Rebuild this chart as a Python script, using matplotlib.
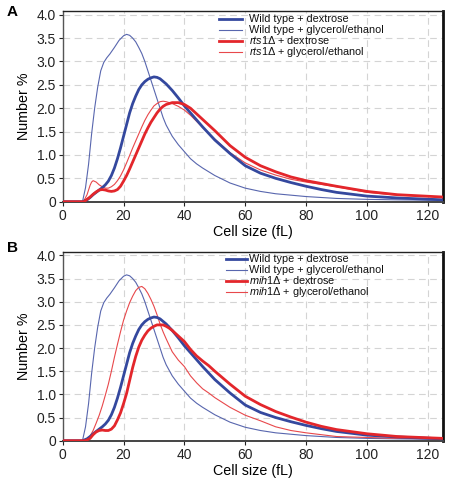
import matplotlib
matplotlib.use("Agg")
import matplotlib.pyplot as plt
from matplotlib.lines import Line2D

plt.rcParams['font.family'] = ['Liberation Sans', 'DejaVu Sans']
plt.rcParams['mathtext.fontset'] = 'custom'
plt.rcParams['mathtext.it'] = 'Liberation Sans:italic'
plt.rcParams['mathtext.rm'] = 'Liberation Sans'

# ---------------- data (cell size fL vs number %) ----------------
wt_dex_x = [0, 6.5, 8, 9, 10, 11, 12, 13, 14, 15, 16, 17, 18, 19, 20, 21, 22, 23, 24, 25, 26, 27, 28, 29, 30, 31, 32,
            34, 36, 38, 40, 42, 44, 46, 48, 50, 55, 60, 65, 70, 75, 80, 85, 90, 100, 110, 125]
wt_dex_y = [0, 0, 0.04, 0.09, 0.15, 0.2, 0.25, 0.3, 0.36, 0.44, 0.56, 0.72, 0.92, 1.15, 1.4, 1.65, 1.9, 2.1, 2.26, 2.4,
            2.5, 2.57, 2.62, 2.65, 2.67, 2.66, 2.63, 2.52, 2.38, 2.22, 2.05, 1.9, 1.75, 1.6, 1.46, 1.32, 1.03, 0.77,
            0.61, 0.5, 0.41, 0.33, 0.26, 0.2, 0.12, 0.08, 0.04]

wt_gly_x = [0, 6.5, 7.5, 8.5, 9.5, 10.5, 11.5, 12.5, 13.5, 14.5, 15.5, 17, 18.5, 20, 21, 22, 23, 24, 25, 26, 27, 28,
            29, 30, 31, 32, 33, 34, 36, 38, 40, 42, 44, 46, 48, 50, 55, 60, 65, 70, 80, 90, 100, 110, 125]
wt_gly_y = [0, 0, 0.3, 0.8, 1.45, 2.0, 2.45, 2.8, 2.98, 3.08, 3.16, 3.3, 3.45, 3.55, 3.58, 3.56, 3.5, 3.42, 3.3, 3.17,
            3.0, 2.8, 2.6, 2.4, 2.2, 2.0, 1.8, 1.64, 1.4, 1.22, 1.07, 0.92, 0.81, 0.72, 0.64, 0.56, 0.4, 0.29, 0.22,
            0.17, 0.11, 0.07, 0.05, 0.04, 0.03]

rts1_dex_x = [0, 7, 8, 9, 10, 11, 12, 13, 14, 15, 16, 17, 18, 19, 20, 21, 22, 23, 24, 25, 26, 27, 28, 29, 30, 31, 32,
              33, 34, 36, 38, 40, 42, 44, 46, 48, 50, 55, 60, 65, 70, 75, 80, 85, 90, 100, 110, 125]
rts1_dex_y = [0, 0, 0.05, 0.1, 0.16, 0.21, 0.25, 0.26, 0.25, 0.23, 0.22, 0.23, 0.26, 0.33, 0.44, 0.56, 0.7, 0.85, 1.0,
              1.15, 1.3, 1.45, 1.58, 1.7, 1.8, 1.9, 1.98, 2.04, 2.08, 2.12, 2.12, 2.08, 2.0, 1.88, 1.76, 1.64, 1.52,
              1.2, 0.95, 0.77, 0.64, 0.53, 0.45, 0.39, 0.33, 0.22, 0.15, 0.1]

rts1_gly_x = [0, 6.8, 8, 9, 9.5, 10, 11, 12, 13, 14, 15, 16, 17, 18, 19, 20, 21, 22, 23, 24, 25, 26, 27, 28, 29, 30,
              31, 32, 33, 34, 36, 38, 40, 42, 44, 46, 48, 50, 55, 60, 65, 70, 75, 80, 85, 90, 100, 110, 125]
rts1_gly_y = [0, 0, 0.15, 0.35, 0.42, 0.45, 0.42, 0.36, 0.32, 0.29, 0.29, 0.32, 0.37, 0.45, 0.55, 0.68, 0.83, 0.99,
              1.15, 1.3, 1.45, 1.6, 1.74, 1.86, 1.96, 2.05, 2.1, 2.14, 2.15, 2.14, 2.1, 2.04, 1.96, 1.85, 1.72, 1.59,
              1.46, 1.34, 1.05, 0.83, 0.68, 0.57, 0.48, 0.42, 0.37, 0.32, 0.2, 0.14, 0.1]

mih1_dex_x = [0, 7.5, 9, 10, 11, 12, 13, 14, 15, 16, 17, 18, 19, 20, 21, 22, 23, 24, 25, 26, 27, 28, 29, 30, 31, 32,
              33, 34, 35, 36, 38, 40, 42, 44, 46, 48, 50, 55, 60, 65, 70, 75, 80, 85, 90, 100, 110, 125]
mih1_dex_y = [0, 0, 0.05, 0.13, 0.19, 0.22, 0.23, 0.22, 0.22, 0.25, 0.32, 0.45, 0.6, 0.8, 1.02, 1.3, 1.58, 1.82,
              2.02, 2.17, 2.28, 2.37, 2.43, 2.47, 2.5, 2.5, 2.5, 2.47, 2.43, 2.38, 2.26, 2.14, 1.97, 1.83, 1.72,
              1.62, 1.5, 1.22, 0.96, 0.78, 0.63, 0.51, 0.4, 0.31, 0.24, 0.15, 0.09, 0.05]

mih1_gly_x = [0, 7.5, 9, 10, 11, 12, 13, 14, 15, 16, 17, 18, 19, 20, 21, 22, 23, 24, 25, 26, 27, 28, 29, 30, 31, 32,
              33, 34, 36, 38, 40, 42, 44, 46, 48, 50, 55, 60, 65, 70, 75, 80, 90, 100, 110, 125]
mih1_gly_y = [0, 0, 0.1, 0.22, 0.38, 0.55, 0.75, 0.98, 1.22, 1.5, 1.8, 2.08, 2.35, 2.6, 2.8, 2.98, 3.12, 3.24, 3.31,
              3.33, 3.28, 3.18, 3.05, 2.9, 2.72, 2.52, 2.35, 2.2, 1.92, 1.74, 1.6, 1.4, 1.25, 1.12, 1.03, 0.93,
              0.72, 0.55, 0.43, 0.3, 0.22, 0.17, 0.09, 0.07, 0.05, 0.04]

x_ticks = [0, 20, 40, 60, 80, 100, 120]
y_ticks = [0, 0.5, 1.0, 1.5, 2.0, 2.5, 3.0, 3.5, 4.0]
y_tick_labels = ['0', '0.5', '1.0', '1.5', '2.0', '2.5', '3.0', '3.5', '4.0']

labels_A = ['Wild type + dextrose', 'Wild type + glycerol/ethanol',
            r'$\mathit{rts1}$Δ + dextrose', r'$\mathit{rts1}$Δ + glycerol/ethanol']
labels_B = ['Wild type + dextrose', 'Wild type + glycerol/ethanol',
            r'$\mathit{mih1}$Δ + dextrose', r'$\mathit{mih1}$Δ + glycerol/ethanol']

BLUE_THICK = '#34489e'
BLUE_THIN = '#5866ae'
RED_THICK = '#e3262b'
RED_THIN = '#e8484b'
COLORS = [BLUE_THICK, BLUE_THIN, RED_THICK, RED_THIN]
WIDTHS = [2.0, 0.8, 2.0, 0.8]

W, H = 449, 480
fig = plt.figure(figsize=(W / 100, H / 100), dpi=100)


def make_axes(top_px, bottom_px):
    left_px, right_px = 62.7, 443.0
    return fig.add_axes([left_px / W, 1 - bottom_px / H, (right_px - left_px) / W, (bottom_px - top_px) / H])


def style(ax):
    ax.set_xlim(0, 125)
    ax.set_ylim(0, 4.08)
    ax.set_xticks(x_ticks)
    ax.set_yticks(y_ticks)
    ax.set_yticklabels(y_tick_labels)
    ax.tick_params(labelsize=10, length=3, width=0.8, colors='#222', pad=2)
    ax.grid(True, color='#d4d4d4', linestyle=(0, (6, 4)), linewidth=0.8)
    ax.set_axisbelow(True)
    ax.spines['left'].set_color('#555')
    ax.spines['left'].set_linewidth(1.0)
    ax.spines['bottom'].set_color('#444')
    ax.spines['bottom'].set_linewidth(1.4)
    ax.spines['top'].set_color('#222')
    ax.spines['top'].set_linewidth(1.0)
    ax.spines['right'].set_color('#111')
    ax.spines['right'].set_linewidth(2.0)
    ax.set_xlabel('Cell size (fL)', fontsize=10.3, labelpad=2)
    ax.set_ylabel('Number %', fontsize=10.3, labelpad=4)


def key(labels, handle_x0, handle_x1, text_x, row_y0, row_step):
    """Legend drawn as handle lines plus labels, in figure pixel layout."""
    for i, lab in enumerate(labels):
        yc = row_y0 + i * row_step
        fig.add_artist(Line2D([handle_x0 / W, handle_x1 / W], [1 - yc / H, 1 - yc / H],
                              color=COLORS[i], lw=WIDTHS[i], transform=fig.transFigure))
        fig.text(text_x / W, 1 - (yc + 3.2) / H, lab, fontsize=7.8, ha='left', va='baseline', color='#111')


# Panel A
axA = make_axes(11.0, 201.7)
axA.plot(wt_dex_x, wt_dex_y, color=COLORS[0], lw=WIDTHS[0], zorder=4)
axA.plot(wt_gly_x, wt_gly_y, color=COLORS[1], lw=WIDTHS[1], zorder=3)
axA.plot(rts1_dex_x, rts1_dex_y, color=COLORS[2], lw=WIDTHS[2], zorder=4)
axA.plot(rts1_gly_x, rts1_gly_y, color=COLORS[3], lw=WIDTHS[3], zorder=3)
style(axA)
key(labels_A, 219, 242, 249, 18.5, 11.2)

# Panel B
axB = make_axes(251.7, 440.7)
axB.plot(wt_dex_x, wt_dex_y, color=COLORS[0], lw=WIDTHS[0], zorder=4)
axB.plot(wt_gly_x, wt_gly_y, color=COLORS[1], lw=WIDTHS[1], zorder=3)
axB.plot(mih1_dex_x, mih1_dex_y, color=COLORS[2], lw=WIDTHS[2], zorder=4)
axB.plot(mih1_gly_x, mih1_gly_y, color=COLORS[3], lw=WIDTHS[3], zorder=3)
style(axB)
key(labels_B, 226, 247, 248.5, 258.5, 11.0)

fig.text(7 / W, 1 - 12 / H, 'A', fontsize=11, fontweight='bold', va='center', ha='left')
fig.text(7 / W, 1 - 248 / H, 'B', fontsize=11, fontweight='bold', va='center', ha='left')

fig.savefig('out.png', dpi=100)
